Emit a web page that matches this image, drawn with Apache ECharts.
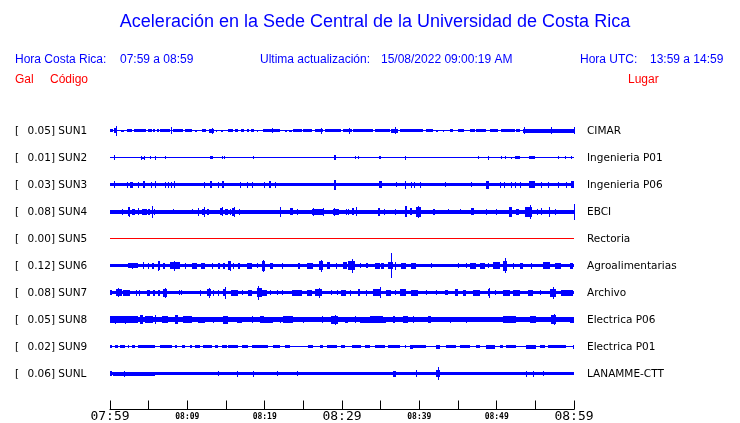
<!DOCTYPE html>
<html><head><meta charset="utf-8">
<script src="https://cdn.jsdelivr.net/npm/echarts@6/dist/echarts.min.js"></script>
<style>html,body{margin:0;padding:0;background:#fff}#c{width:740px;height:423px}</style>
</head><body><div id="c"></div>
<script>
// ---- data ----
const codes = ['SUN1','SUN2','SUN3','SUN4','SUN5','SUN6','SUN7','SUN8','SUN9','SUNL'];
const places = ['CIMAR','Ingenieria P01','Ingenieria P06','EBCI','Rectoria','Agroalimentarias','Archivo','Electrica P06','Electrica P01','LANAMME-CTT'];
const galMax = ['0.05','0.01','0.03','0.08','0.00','0.12','0.08','0.05','0.02','0.06'];
// background (noise) half-amplitude of each trace
const baseAmp = [0.5, 0.6, 1.9, 2, 0.5, 1.8, 1.6, 2.3, 0.5, 1.6];
const timeLabels = ['07:59','08:09','08:19','08:29','08:39','08:49','08:59'];
const majorLabels = ['07:59','08:29','08:59'];
// bursts: [start minute, end minute, half amplitude]
const sun1 = [[0,0.43,1.5],[0.56,0.94,2.5],[0.74,0.74,5],[1.42,1.77,1],[2.16,2.8,1.5],[3.14,4.61,1.5],[4.87,5.39,1.5],[5.59,5.81,1.5],[6.03,6.33,1.5],[6.5,7.75,1.5],[7.84,7.84,3.5],[8.18,9.47,1.5],[9.69,10.63,1.5],[10.98,11.28,1],[11.92,12.36,1.5],[12.79,13.48,2],[13.14,13.14,3],[13.7,13.7,1],[14.34,14.64,1],[15.21,15.93,1.5],[16.15,16.58,1.5],[16.89,17.35,1.5],[17.66,17.96,1.5],[18.18,18.57,1.5],[18.95,18.95,1],[19.81,21.96,1.5],[20.89,20.89,2.5],[22.61,22.91,1],[23.17,23.47,1],[23.68,24.77,1.5],[24.97,26.06,1.5],[26.49,27.56,1.5],[27.26,27.26,3],[27.78,29.93,1.5],[30.14,31.23,1.5],[30.92,30.92,3],[31.43,34.02,1.5],[34.24,36.18,1.5],[36.4,37.25,2],[36.91,36.91,3.5],[37.47,40.48,1.5],[40.92,41.77,1.5],[42.21,42.42,1],[43.06,43.06,1],[43.93,44.35,1.5],[45.0,45.78,1.5],[46.51,47.16,1.5],[47.38,48.67,1.5],[49.1,50.17,1.5],[50.52,52.33,1.5],[52.55,52.97,1.5],[53.4,60,2],[53.53,53.53,3.5],[57.07,57.07,3.5],[59.95,59.95,3.5]];
const sun2 = [[0.56,0.56,2.5],[3.97,3.97,2],[4.43,4.43,2],[3.97,4.43,1],[5.17,5.17,1.5],[5.81,5.81,2],[7.1,7.1,1.5],[12.92,13.35,1.5],[14.51,14.51,1.5],[14.77,14.77,1.5],[18.51,18.51,1.5],[28.94,29.2,2.5],[31.65,31.65,1.5],[32.08,32.08,1.5],[34.75,35.1,1.5],[38.2,38.2,2],[47.58,47.58,1.5],[48.87,48.87,2],[50.6,50.6,1.5],[51.03,51.03,1.5],[51.9,51.9,1],[52.33,52.97,1.3],[54.13,54.91,1.5],[57.92,57.92,1.5],[58.88,58.88,1.5],[59.65,59.65,1.5]];
const sun3 = [[0.56,0.56,3.5],[2.16,2.16,3],[2.58,3.01,3],[3.66,3.66,3],[4.3,4.52,3.5],[5.3,5.3,3],[5.81,5.81,3.5],[7.1,7.1,3],[7.53,7.53,3],[7.88,7.88,3],[8.31,8.31,3.5],[12.18,12.18,3],[12.92,13.22,3.5],[13.99,13.99,3],[14.51,14.77,3.5],[16.8,16.8,3],[17.66,17.66,3],[18.31,18.31,3],[19.9,19.9,3],[20.58,20.76,3.5],[21.32,21.32,3],[28.94,29.2,5],[34.79,35.23,3.5],[37.04,37.04,2.5],[38.11,38.33,4],[38.98,38.98,3],[39.28,39.28,3],[40.05,40.05,3],[43.28,43.28,2.5],[46.73,46.73,2.5],[48.67,48.97,4],[50.39,50.39,3],[50.94,50.94,3],[51.9,51.9,3],[52.33,52.33,3],[52.97,52.97,3],[54.13,54.91,3.3],[55.78,55.78,3],[56.63,56.63,3],[57.92,57.92,3],[59.0,59.0,3],[59.65,60,3.5]];
const sun4 = [[1.59,1.59,3],[2.29,2.58,4.5],[2.45,2.45,5],[2.8,3.23,3],[3.58,3.79,3.5],[4.17,4.74,3],[4.95,5.17,3],[5.47,5.47,6],[5.72,5.72,3],[8.18,8.18,2.5],[10.63,10.63,2.5],[11.33,11.33,4],[11.85,12.27,3],[12.18,12.18,5],[12.49,12.79,3],[14.21,14.64,3.5],[14.43,14.43,4.5],[14.86,15.21,3],[15.5,15.5,3],[15.8,16.15,4],[16.06,16.06,5],[16.71,16.71,3],[21.96,21.96,5],[23.26,23.68,3.5],[24.12,24.12,3],[26.06,27.56,3],[26.27,26.27,4],[27.56,27.56,4],[28.85,29.63,3],[28.94,28.94,4],[30.49,30.49,3],[30.79,30.79,3],[31.23,31.52,3.5],[31.78,31.78,4.5],[34.66,34.88,4],[35.4,35.4,3],[36.82,36.82,3],[38.11,38.41,5.5],[38.76,39.11,3.5],[39.63,40.27,5],[39.83,39.83,6],[41.77,42.08,3],[43.71,43.71,2.5],[45.22,45.22,2.5],[46.73,47.07,3.5],[48.67,48.67,3],[49.96,49.96,3],[51.59,51.98,5],[52.55,52.84,3],[53.62,54.56,5],[54.26,54.26,7],[55.26,55.26,3],[55.68,55.68,3.5],[56.72,56.89,5],[57.49,57.49,3],[59.95,59.95,8]];
const sun5 = [];
const sun6 = [[2.29,3.66,2.3],[2.8,2.8,3],[4.3,4.3,3.5],[4.95,4.95,3],[5.39,5.72,3],[6.16,6.46,4.5],[6.24,6.24,5],[6.89,7.1,3],[7.75,9.04,3.5],[8.27,8.27,5],[9.69,9.69,3],[10.63,11.2,3],[11.76,12.27,3],[13.22,13.22,3],[13.91,14.21,3],[14.64,14.86,3],[15.28,15.63,4.5],[15.5,15.5,5],[15.93,15.93,3],[16.5,16.8,3],[17.66,18.31,3],[18.95,19.16,2.5],[19.6,20.03,5],[19.81,19.81,6],[20.67,21.1,3],[22.18,22.39,3],[24.33,24.55,3],[25.41,26.27,3],[27.04,27.48,4.5],[27.22,27.22,6],[28.0,28.42,3.5],[29.2,29.2,3],[30.14,30.66,3.5],[30.79,31.65,4.5],[31.3,31.3,7],[32.3,32.52,2.5],[33.16,33.37,2.5],[34.24,34.88,3],[35.1,35.4,3],[35.96,36.6,3.5],[36.37,36.37,12.3],[36.82,36.82,4],[37.69,38.33,3],[38.98,39.63,3],[41.56,41.56,2.5],[45.0,45.0,2.5],[46.09,46.09,2.5],[46.51,47.29,3],[47.8,48.45,3],[48.87,48.87,2.5],[49.52,50.39,3.5],[50.81,51.33,5],[51.12,51.12,7.5],[52.1,52.1,3],[52.97,53.4,3],[54.48,54.48,3],[55.98,56.85,3.5],[57.49,58.36,3],[59.43,59.86,3]];
const sun7 = [[0,0.22,2.5],[0.78,1.51,3.5],[0.99,0.99,4.5],[1.72,2.58,3],[3.32,3.32,3],[3.75,3.75,3],[4.74,5.17,3],[5.59,5.81,3],[6.24,6.46,3],[6.89,7.33,4],[7.1,7.1,5],[8.91,8.91,2.5],[9.17,9.17,2.5],[11.63,11.63,3],[12.49,13.05,3.5],[12.79,12.79,5],[13.35,13.35,3],[13.99,13.99,3],[14.64,14.95,3.5],[14.86,14.86,6],[15.63,16.58,3],[17.02,17.02,2.5],[17.87,18.31,3],[18.95,19.6,4.5],[19.16,19.16,7],[19.38,20.25,3],[20.67,20.67,2.5],[21.54,21.54,2.5],[22.18,22.18,2.5],[23.47,24.77,3],[25.41,26.06,3],[26.49,27.35,3.5],[27.04,27.04,5],[28.64,28.64,2.5],[29.29,29.29,2.5],[29.93,30.58,3],[31.01,31.01,3],[32.08,32.3,3.5],[33.16,33.16,3],[34.02,35.1,3.5],[34.88,34.88,5.5],[35.75,36.4,3],[36.82,36.82,2.5],[37.47,38.24,3.5],[38.98,39.83,3],[40.92,40.92,2.5],[42.21,42.21,2.5],[43.28,43.71,2.5],[44.57,45.0,3.5],[45.65,46.09,3],[46.94,47.8,3],[48.87,49.1,3.5],[49.0,49.0,5],[49.74,49.74,2.5],[50.81,51.68,3],[52.1,52.97,3],[54.04,54.69,3],[55.56,55.56,2.5],[56.85,57.71,4],[57.27,57.27,6],[58.36,59.86,3]];
const sun8 = [[0,3.66,3.5],[0.65,0.65,4],[1.94,1.94,4],[3.88,4.3,4.5],[4.52,5.59,3.5],[5.81,5.81,4.5],[6.68,7.53,3.5],[8.4,8.82,4.5],[9.47,10.56,3.5],[11.41,12.27,3],[13.35,13.35,3],[14.64,15.28,4],[16.37,17.02,3],[18.31,18.31,3.5],[19.38,21.1,3],[19.38,19.94,3.5],[21.96,21.96,3],[22.39,23.68,3.5],[24.97,24.97,3],[27.35,27.35,3.5],[28.64,29.5,4],[29.07,29.07,5],[30.36,30.79,3],[31.65,31.65,3.5],[32.3,33.59,3],[33.59,35.32,3.5],[34.88,35.75,3],[36.6,36.82,3.5],[37.89,38.54,3.5],[39.19,39.19,3.5],[41.12,41.56,3.5],[43.93,43.93,3],[46.09,46.09,3],[47.8,47.8,2.5],[50.81,52.55,3.5],[54.26,55.13,3.5],[57.07,57.71,4.5],[57.36,57.36,5.5],[59.43,59.95,3]];
const sun9 = [[0,0.22,1.3],[0.65,1.07,1.3],[1.29,1.94,1.3],[2.36,2.36,1.3],[2.8,3.23,1.3],[3.66,5.81,1.3],[6.46,7.97,1.3],[8.4,8.62,1.3],[9.26,9.69,1.3],[10.34,10.56,1.3],[10.98,11.63,1.3],[12.05,13.14,1.3],[13.57,13.99,1.3],[14.43,15.08,1.3],[15.28,16.58,1.3],[17.02,17.87,1.3],[18.31,19.6,1.3],[19.38,20.45,1.3],[21.1,21.96,1.3],[22.61,23.26,1.3],[25.62,26.27,1.3],[27.13,27.56,1.3],[28.0,29.29,1.3],[29.93,30.36,1.3],[31.23,32.52,1.3],[32.95,33.59,1.3],[34.24,35.53,1.3],[35.96,37.04,1.3],[37.04,37.47,1.3],[38.11,38.33,1.3],[38.76,39.19,2],[38.98,39.83,1.3],[39.83,40.92,1.3],[42.21,42.64,2],[43.5,44.79,1.3],[45.22,46.51,1.3],[47.38,47.8,1.3],[48.67,49.74,2],[50.39,50.81,1.3],[51.25,52.55,1.3],[53.84,55.13,2],[55.56,56.2,1.3],[56.63,59.0,1.3],[59.86,59.86,2]];
const sunl = [[0,0.22,2.5],[0.43,5.81,2],[1.81,1.81,3],[13.99,13.99,2.5],[16.37,16.37,3],[18.51,18.51,3],[21.54,21.54,2.5],[24.12,24.12,2.5],[36.6,37.04,3],[39.54,39.54,3.5],[42.21,42.64,3.5],[42.42,42.42,6.7],[53.84,53.84,3],[54.69,54.69,3],[55.98,55.98,2.5]];
const bursts = [sun1, sun2, sun3, sun4, sun5, sun6, sun7, sun8, sun9, sunl];

// ---- chart ----
const BLUE = '#0000ff', RED = '#ff0000';
const ROW = 27, TOP = 117, LEFT = 110, RIGHT = 166;
const chart = echarts.init(document.getElementById('c'), null, {renderer: 'canvas'});

const grids = [], xAxes = [], yAxes = [], series = [], graphics = [];
const lblFont = '10.5px "DejaVu Sans"';
codes.forEach((code, i) => {
  grids.push({left: LEFT, right: RIGHT, top: TOP + ROW * i, height: ROW});
  xAxes.push({type: 'value', gridIndex: i, min: 0, max: 60, show: false});
  yAxes.push({type: 'value', gridIndex: i, min: -13.5, max: 13.5, show: false});
  const color = code === 'SUN5' ? RED : BLUE;
  const data = [[0, 60, baseAmp[i]]].concat(bursts[i]);
  series.push({
    type: 'custom', xAxisIndex: i, yAxisIndex: i, data: data, silent: true, animation: false,
    renderItem: function (params, api) {
      const a = api.value(2);
      const p0 = api.coord([api.value(0), a]);
      const p1 = api.coord([api.value(1), -a]);
      const x0 = Math.round(p0[0]);
      const x1 = Math.max(Math.round(p1[0]), x0 + 1);
      const y0 = Math.round(p0[1]);
      const y1 = Math.max(Math.round(p1[1]), y0 + 1);
      return {type: 'rect', shape: {x: x0, y: y0, width: x1 - x0, height: y1 - y0}, style: {fill: color}};
    }
  });
  const cy = TOP + ROW * i + ROW / 2 + 1;
  graphics.push({type: 'text', x: 15, y: cy, style: {text: '[', font: lblFont, fill: '#000', textVerticalAlign: 'middle'}});
  graphics.push({type: 'text', x: 27.5, y: cy, style: {text: galMax[i] + '] ' + code, font: lblFont, fill: '#000', textVerticalAlign: 'middle'}});
  graphics.push({type: 'text', x: 587, y: cy, style: {text: places[i], font: lblFont, fill: '#000', textVerticalAlign: 'middle'}});
});
// time axis
const ai = codes.length;
grids.push({left: LEFT, right: RIGHT, top: 395, height: 14.5});
xAxes.push({
  type: 'value', gridIndex: ai, min: 0, max: 60, interval: 5, position: 'bottom',
  axisLine: {show: true, lineStyle: {color: '#000', width: 1}},
  axisTick: {show: true, inside: true, length: 9, lineStyle: {color: '#000', width: 1}},
  splitLine: {show: false},
  axisLabel: {
    show: true, margin: 7, verticalAlign: 'middle', showMinLabel: true, showMaxLabel: true, hideOverlap: false,
    formatter: function (v) {
      if (v % 10 !== 0) return '';
      const lab = timeLabels[v / 10];
      return majorLabels.indexOf(lab) >= 0 ? '{big|' + lab + '}' : '{small|' + lab + '}';
    },
    rich: {
      big: {fontFamily: 'DejaVu Sans Mono', fontSize: 13, color: '#000'},
      small: {fontFamily: 'DejaVu Sans Mono', fontSize: 8, color: '#000', fontWeight: 'bold'}
    }
  }
});
yAxes.push({type: 'value', gridIndex: ai, show: false, min: 0, max: 1});

// header texts
const hFont = '12px "Liberation Sans", Arial';
graphics.push({type: 'text', x: 375, y: 22, style: {text: 'Aceleración en la Sede Central de la Universidad de Costa Rica', font: '18px "Liberation Sans", Arial', fill: BLUE, textAlign: 'center', textVerticalAlign: 'middle'}});
[['Hora Costa Rica:', 15], ['07:59 a 08:59', 120], ['Ultima actualización:', 260], ['15/08/2022 09:00:19 AM', 381], ['Hora UTC:', 580], ['13:59 a 14:59', 650]].forEach(t => {
  graphics.push({type: 'text', x: t[1], y: 60, style: {text: t[0], font: hFont, fill: BLUE, textVerticalAlign: 'middle'}});
});
[['Gal', 15], ['Código', 50], ['Lugar', 628]].forEach(t => {
  graphics.push({type: 'text', x: t[1], y: 80, style: {text: t[0], font: hFont, fill: RED, textVerticalAlign: 'middle'}});
});

chart.setOption({
  animation: false,
  backgroundColor: '#fff',
  grid: grids, xAxis: xAxes, yAxis: yAxes, series: series, graphic: graphics
});
</script></body></html>
